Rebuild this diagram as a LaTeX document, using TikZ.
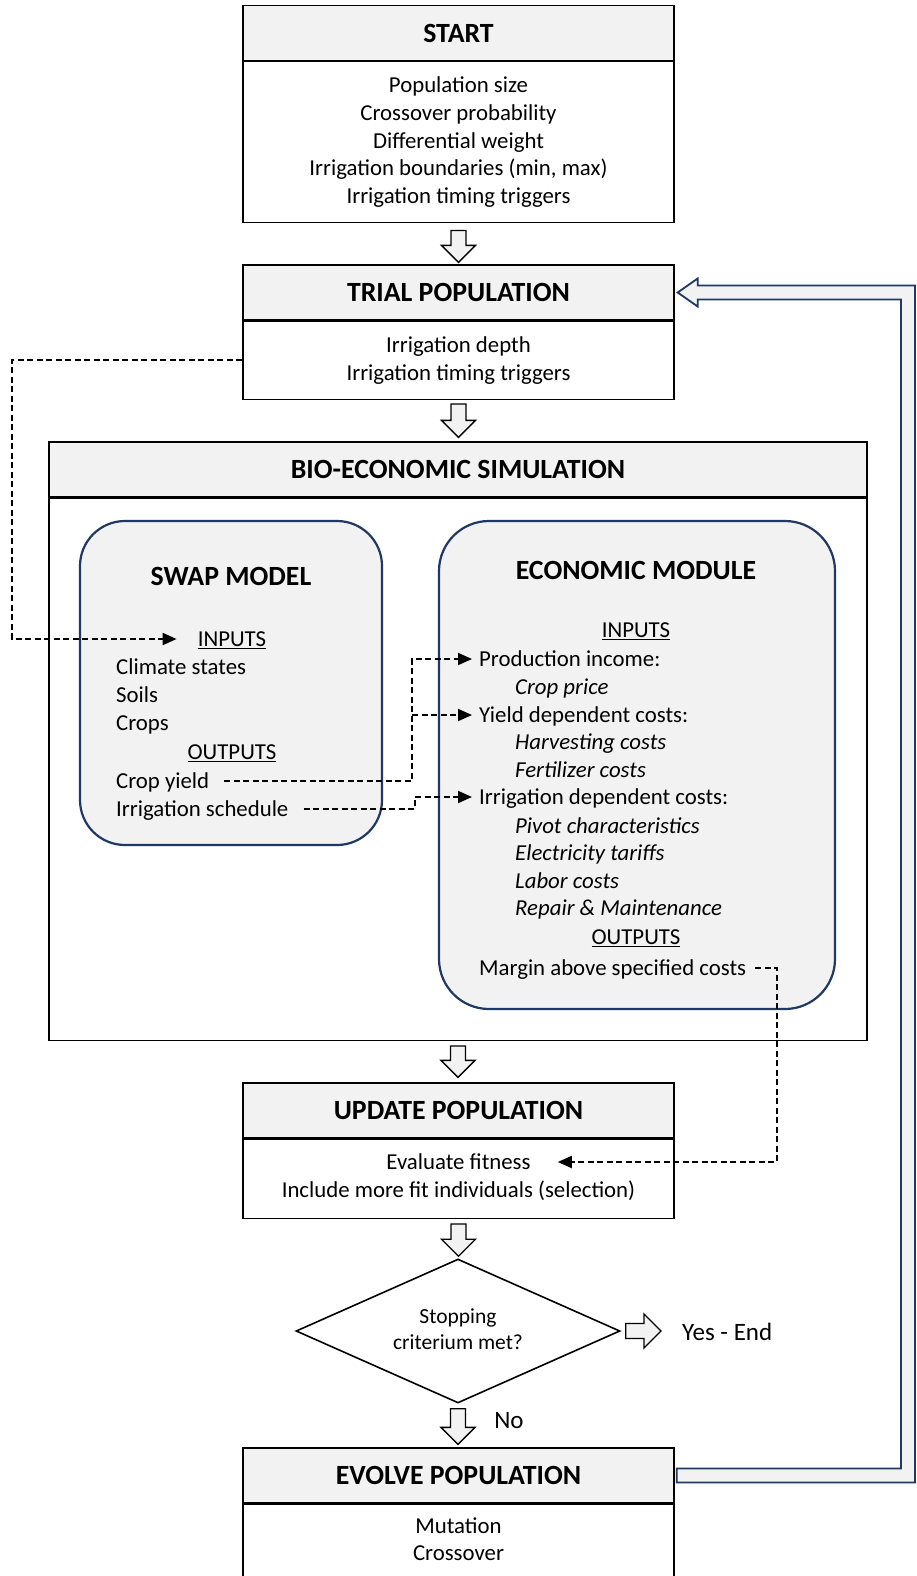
\documentclass[tikz,border=0pt]{standalone}
\usepackage{fontspec}
\setmainfont{Carlito}
\usetikzlibrary{calc,arrows.meta,shapes.geometric}
\definecolor{hdrgray}{HTML}{F2F2F2}
\definecolor{navy}{HTML}{1F3864}
\newcommand\blockdown[2]{\draw[blockarr] let \p1=#1, \p2=#2 in (\x1-7.5pt,\y1) -- (\x1+7.5pt,\y1) -- (\x1+7.5pt,\y2+17pt) -- (\x1+17pt,\y2+17pt) -- (\x1,\y2) -- (\x1-17pt,\y2+17pt) -- (\x1-7.5pt,\y2+17pt) -- cycle;}
\newcommand\blockright[2]{\draw[blockarr] let \p1=#1, \p2=#2 in (\x1,\y1+7.5pt) -- (\x1,\y1-7.5pt) -- (\x2-17pt,\y1-7.5pt) -- (\x2-17pt,\y1-17pt) -- (\x2,\y1) -- (\x2-17pt,\y1+17pt) -- (\x2-17pt,\y1+7.5pt) -- cycle;}
\begin{document}
\begin{tikzpicture}[x=1pt,y=-1pt,
  hdr/.style={draw=black, line width=1.3pt, fill=hdrgray, minimum width=431pt, minimum height=55pt, inner sep=0pt, font=\fontsize{27.8}{32}\selectfont\bfseries},
  bodybox/.style={draw=black, line width=1.3pt, fill=white, minimum width=431pt, inner sep=0pt, anchor=north, align=center, font=\fontsize{22.8}{27.7}\selectfont},
  rbox/.style={draw=navy, line width=2.2pt, fill=hdrgray, inner sep=0pt},
  txt/.style={inner sep=0pt, font=\fontsize{22.8}{27}\selectfont, text height=18pt, text depth=3pt},
  itx/.style={txt, font=\fontsize{22.8}{27}\selectfont\itshape},
  ttl/.style={inner sep=0pt, font=\fontsize{27.8}{32}\selectfont\bfseries},
  blockarr/.style={draw=black, line width=1.3pt, fill=hdrgray, line join=miter},
  fbarrow/.style={draw=navy, line width=1.8pt, fill=hdrgray, line join=miter},
  dconn/.style={draw=black, line width=1.9pt, dash pattern=on 6pt off 3.5pt, -{Triangle[length=14pt,width=12pt]}}
]
\useasboundingbox[fill=white] (0,0) rectangle (917,1576);

% START
\node[hdr] (start) at (458.5,33) {START};
\node[bodybox, minimum height=161pt] (startb) at (start.south) {Population size\\Crossover probability\\Differential weight\\Irrigation boundaries (min, max)\\Irrigation timing triggers};

% TRIAL
\node[hdr] (trial) at (458.5,292.5) {TRIAL POPULATION};
\node[bodybox, minimum height=78pt] (trialb) at (trial.south) {Irrigation depth\\Irrigation timing triggers};

% BIO
\node[hdr, minimum width=818pt] (bio) at (458,469.5) {BIO-ECONOMIC SIMULATION};
\node[bodybox, minimum width=818pt, minimum height=542pt] (biob) at (bio.south) {};

% SWAP
\node[rbox, minimum width=302pt, minimum height=324pt, rounded corners=45pt] (swap) at (231,683) {};
\node[ttl] (swaptitle) at (231,576) {SWAP MODEL};
\node[txt] (swapin) at (232,639) {\underline{INPUTS}};
\node[txt, anchor=west] (climate) at (116,667) {Climate states};
\node[txt, anchor=west] (soils) at (116,695) {Soils};
\node[txt, anchor=west] (crops) at (116,723) {Crops};
\node[txt] (swapout) at (232,752) {\underline{OUTPUTS}};
\node[txt, anchor=west] (cropyield) at (116,781) {Crop yield};
\node[txt, anchor=west] (irrsched) at (116,809) {Irrigation schedule};

% ECONOMIC
\node[rbox, minimum width=396pt, minimum height=488pt, rounded corners=50pt] (econ) at (637,765) {};
\node[ttl] (econtitle) at (636,570) {ECONOMIC MODULE};
\node[txt] (econin) at (636,630) {\underline{INPUTS}};
\node[txt, anchor=west] (prodinc) at (479,659) {Production income:};
\node[itx, anchor=west] (cropprice) at (515,687) {Crop price};
\node[txt, anchor=west] (yielddep) at (479,715) {Yield dependent costs:};
\node[itx, anchor=west] (harv) at (515,742) {Harvesting costs};
\node[itx, anchor=west] (fert) at (515,770) {Fertilizer costs};
\node[txt, anchor=west] (irrdep) at (479,797) {Irrigation dependent costs:};
\node[itx, anchor=west] (pivot) at (515,826) {Pivot characteristics};
\node[itx, anchor=west] (elec) at (515,853) {Electricity tariffs};
\node[itx, anchor=west] (labor) at (515,881) {Labor costs};
\node[itx, anchor=west] (repair) at (515,908) {Repair \& Maintenance};
\node[txt] (econout) at (636,937) {\underline{OUTPUTS}};
\node[txt, anchor=west] (margin) at (479,968) {Margin above specified costs};

% UPDATE
\node[hdr] (update) at (458.5,1110.5) {UPDATE POPULATION};
\node[bodybox, minimum height=79pt] (updateb) at (update.south) {};
\node[txt] (evalfit) at (458.5,1162) {Evaluate fitness};
\node[txt] (incl) at (458.5,1190) {Include more fit individuals (selection)};

% DECISION
\node[diamond, draw=black, line width=1.6pt, fill=white, minimum width=324pt, minimum height=144pt, inner sep=0pt, aspect=2.25] (dec) at (458,1331) {};
\node[inner sep=0pt, align=center, font=\fontsize{21.5}{26}\selectfont] (dectext) at (458,1329) {Stopping\\criterium met?};
\node[inner sep=0pt, anchor=west, font=\fontsize{25}{29}\selectfont] (yes) at (682,1332) {Yes - End};
\node[inner sep=0pt, font=\fontsize{25}{29}\selectfont] (no) at (509,1421) {No};

% EVOLVE
\node[hdr] (evolve) at (458.5,1475.5) {EVOLVE POPULATION};
\node[bodybox, minimum height=120pt] (evolveb) at (evolve.south) {};
\node[txt] (mut) at (458.5,1526) {Mutation};
\node[txt] (cross) at (458.5,1553) {Crossover};

% block arrows
\blockdown{($(startb.south)+(0,7)$)}{($(trial.north)+(0,-2)$)}
\blockdown{($(trialb.south)+(0,4)$)}{($(bio.north)+(0,-4)$)}
\blockdown{($(biob.south)+(0,5)$)}{($(update.north)+(0,-5)$)}
\blockdown{($(updateb.south)+(0,5)$)}{($(dec.north)+(0,-2)$)}
\blockdown{($(dec.south)+(0,5)$)}{($(evolve.north)+(0,-3)$)}
\blockright{($(dec.east)+(5,0)$)}{($(yes.west)+(-21,0)$)}

% feedback arrow
\draw[fbarrow] let \p1=(evolve.east), \p2=(trial.east) in
  (\x1+2pt,\y1+7pt) -- (901pt,\y1+7pt) -- (901pt,\y2-7pt) -- (\x2+23pt,\y2-7pt) -- (\x2+23pt,\y2-14pt) -- (\x2+3pt,\y2) -- (\x2+23pt,\y2+14pt) -- (\x2+23pt,\y2+7pt) -- (915pt,\y2+7pt) -- (915pt,\y1-7pt) -- (\x1+2pt,\y1-7pt) -- cycle;

% dashed connectors
\coordinate (dl) at (12,0);
\coordinate (jA) at (412,0);
\coordinate (jB) at (415,0);
\coordinate (jC) at (777,0);
\draw[dconn] (trialb.west) -| (dl |- swapin.west) -- ($(swapin.west)+(-21,0)$);
\draw[dconn] ($(cropyield.east)+(15,0)$) -| (jA |- prodinc.west) -- ($(prodinc.west)+(-7,0)$);
\draw[dconn] (jA |- yielddep.west) -- ($(yielddep.west)+(-7,0)$);
\draw[dconn] ($(irrsched.east)+(15,0)$) -| (jB |- irrdep.west) -- ($(irrdep.west)+(-7,0)$);
\draw[dconn] ($(margin.east)+(9,0)$) -| (jC |- evalfit.east) -- ($(evalfit.east)+(27,0)$);
\end{tikzpicture}
\end{document}
